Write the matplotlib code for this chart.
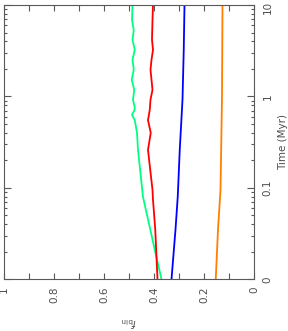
import matplotlib
matplotlib.use('Agg')
import matplotlib.pyplot as plt
import matplotlib.transforms as mtransforms
import numpy as np
from matplotlib.ticker import FixedLocator, FixedFormatter, MultipleLocator, NullFormatter

plt.rcParams.update({'font.size': 7.5, 'font.family': 'DejaVu Sans'})

# binary fraction vs time (Myr), four runs
t_green = [0.01, 0.0194, 0.0795, 0.26, 0.40, 0.55, 0.63, 0.71, 0.76, 0.92,
           1.18, 1.52, 1.96, 2.51, 3.24, 4.16, 5.35, 6.87, 10.0]
f_green = [0.370, 0.394, 0.444, 0.464, 0.468, 0.477, 0.488, 0.478, 0.477, 0.484,
           0.479, 0.489, 0.481, 0.486, 0.477, 0.486, 0.481, 0.488, 0.486]

t_red = [0.01, 0.035, 0.074, 0.095, 0.157, 0.26, 0.40, 0.55, 0.71, 0.92,
         1.18, 1.52, 1.96, 2.51, 3.24, 4.16, 6.87, 10.0]
f_red = [0.386, 0.395, 0.404, 0.406, 0.415, 0.424, 0.413, 0.424, 0.417, 0.414,
         0.406, 0.410, 0.414, 0.410, 0.404, 0.408, 0.406, 0.404]

t_blue = [0.01, 0.035, 0.08, 0.26, 0.92, 3.24, 10.0]
f_blue = [0.330, 0.314, 0.305, 0.297, 0.286, 0.281, 0.278]

t_orange = [0.01, 0.035, 0.095, 0.3, 1.0, 10.0]
f_orange = [0.153, 0.144, 0.134, 0.131, 0.128, 0.126]

time_ticks = [0.01, 0.1, 1, 10]
time_labels = ['0', '0.1', '1', '10']
fbin_ticks = [0, 0.2, 0.4, 0.6, 0.8, 1]
fbin_labels = ['0', '0.2', '0.4', '0.6', '0.8', '1']

fig = plt.figure(figsize=(2.88, 3.31), dpi=100)
ax = fig.add_axes([4/288, 51.7/331, 250/288, 274.3/331])

ax.plot(f_green, t_green, color='#00ff80', lw=1.3)
ax.plot(f_red, t_red, color='#ff0000', lw=1.3)
ax.plot(f_blue, t_blue, color='#0000ff', lw=1.3)
ax.plot(f_orange, t_orange, color='#ff8000', lw=1.3)

ax.set_yscale('log')
ax.set_ylim(0.01, 10)
ax.set_xlim(1, 0)

axis_col = '0.35'
for s in ax.spines.values():
    s.set_color(axis_col)
    s.set_linewidth(0.8)

ax.xaxis.set_major_locator(FixedLocator(fbin_ticks))
ax.xaxis.set_major_formatter(FixedFormatter(fbin_labels))
ax.xaxis.set_minor_locator(MultipleLocator(0.1))
ax.yaxis.set_major_locator(FixedLocator(time_ticks))
ax.yaxis.set_major_formatter(FixedFormatter(time_labels))
ax.yaxis.set_minor_formatter(NullFormatter())

ax.yaxis.tick_right()
ax.yaxis.set_label_position('right')
ax.tick_params(axis='x', which='both', direction='in', top=True, bottom=True,
               length=4, width=0.8, color=axis_col, labelcolor='0.3', pad=5,
               labelrotation=90)
ax.tick_params(axis='y', which='major', direction='in', left=True, right=True,
               length=5, width=0.8, color=axis_col, labelcolor='0.3', pad=6,
               labelrotation=90)
ax.tick_params(axis='y', which='minor', direction='in', left=True, right=True,
               length=2.5, width=0.8, color=axis_col)

# nudge the top "10" label down a little so it stays inside the figure
shift = mtransforms.ScaledTranslation(0, -2.5/100, fig.dpi_scale_trans)
for tick in ax.yaxis.get_major_ticks():
    tick.label2.set_va('center')
ax.yaxis.get_major_ticks()[-1].label2.set_transform(
    ax.yaxis.get_major_ticks()[-1].label2.get_transform() + shift)

ax.set_xlabel(r'$f_{\rm bin}$', rotation=180, color='0.3', labelpad=9)
ax.set_ylabel('Time (Myr)', rotation=90, color='0.3', labelpad=4)

plt.savefig('out.png', dpi=100)
